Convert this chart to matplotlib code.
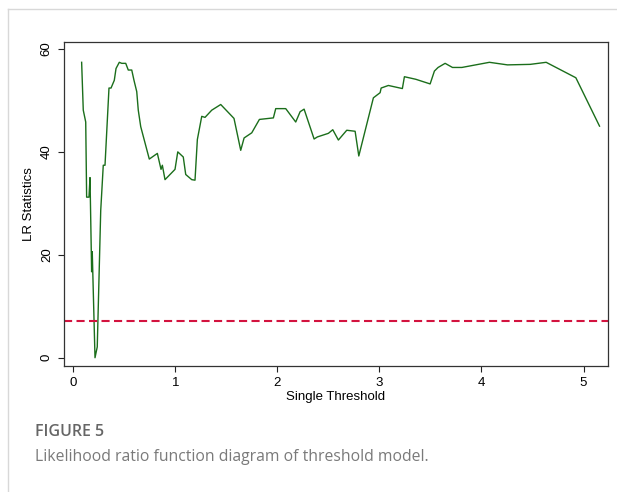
import matplotlib
matplotlib.use('Agg')
import matplotlib.pyplot as plt
from matplotlib.lines import Line2D

# LR statistic against single threshold value
threshold = [0.082, 0.098, 0.122, 0.131, 0.154, 0.164, 0.180, 0.186, 0.213, 0.235,
             0.269, 0.294, 0.311, 0.350, 0.370, 0.402, 0.419, 0.451, 0.475, 0.514,
             0.539, 0.573, 0.595, 0.622, 0.637, 0.661, 0.745, 0.824, 0.860, 0.873,
             0.899, 0.997, 1.024, 1.078, 1.102, 1.161, 1.193, 1.216, 1.259, 1.291,
             1.357, 1.445, 1.575, 1.641, 1.674, 1.749, 1.824, 1.961, 1.984, 2.082,
             2.180, 2.223, 2.262, 2.360, 2.392, 2.500, 2.543, 2.598, 2.680, 2.762,
             2.798, 2.941, 3.007, 3.017, 3.088, 3.225, 3.245, 3.357, 3.497, 3.539,
             3.575, 3.644, 3.716, 3.808, 4.078, 4.255, 4.478, 4.634, 4.925, 5.157]
lr_stat = [57.4, 48.1, 45.8, 31.2, 31.2, 35.0, 16.7, 20.6, 0.0, 2.1,
           28.6, 37.4, 37.4, 52.4, 52.4, 53.9, 56.2, 57.4, 57.2, 57.2,
           55.9, 55.9, 53.9, 51.7, 48.1, 44.9, 38.6, 39.7, 36.6, 37.4,
           34.6, 36.6, 40.0, 39.0, 35.6, 34.6, 34.5, 42.4, 46.9, 46.7,
           48.1, 49.2, 46.5, 40.3, 42.7, 43.7, 46.3, 46.6, 48.4, 48.4,
           45.8, 47.8, 48.3, 42.5, 42.9, 43.6, 44.3, 42.3, 44.2, 44.0,
           39.2, 50.5, 51.5, 52.4, 52.9, 52.3, 54.6, 54.1, 53.2, 55.7,
           56.4, 57.2, 56.4, 56.4, 57.4, 56.9, 57.0, 57.4, 54.4, 45.0]
crit_value = 7.2

x_ticks = [0, 1, 2, 3, 4, 5]
y_ticks = [0, 20, 40, 60]

plt.rcParams['font.family'] = ['Liberation Sans', 'DejaVu Sans']

fig = plt.figure(figsize=(6.17, 4.92), dpi=100)
ax = fig.add_axes([0.1037, 0.2567, 0.8817, 0.6585])

ax.plot(threshold, lr_stat, color='#1b6e1b', lw=1.0)
ax.axhline(crit_value, color='#d3133f', lw=1.5, dashes=(3.9, 2.1))

ax.set_xlim(-0.091, 5.24)
ax.set_ylim(-1.55, 61.4)
ax.set_xticks(x_ticks)
ax.set_yticks(y_ticks)
ax.tick_params(labelsize=9.5, length=4, width=0.8, color='#222222', pad=4)
ax.set_yticklabels([str(t) for t in y_ticks], rotation=90, va='center')
ax.set_xlabel('Single Threshold', fontsize=9.5, labelpad=1.5)
ax.set_ylabel('LR Statistics', fontsize=9.5, labelpad=4)
for s in ax.spines.values():
    s.set_color('#333333')
    s.set_linewidth(0.9)

# light frame of the figure panel
fig.add_artist(Line2D([8 / 617, 8 / 617], [0, 1 - 9 / 492], transform=fig.transFigure,
                      color='#d8d8d8', lw=1))
fig.add_artist(Line2D([8 / 617, 1], [1 - 9 / 492, 1 - 9 / 492], transform=fig.transFigure,
                      color='#d8d8d8', lw=1))

fig.text(35 / 617, 1 - 432 / 492, 'FIGURE 5', fontsize=11.5, fontweight='semibold',
         color='#666666', family=['Open Sans', 'DejaVu Sans'], va='center')
fig.text(35 / 617, 1 - 457 / 492, 'Likelihood ratio function diagram of threshold model.',
         fontsize=11.3, color='#7a7a7a', family=['Open Sans', 'DejaVu Sans'], va='center')

fig.savefig('out.png', dpi=100)
